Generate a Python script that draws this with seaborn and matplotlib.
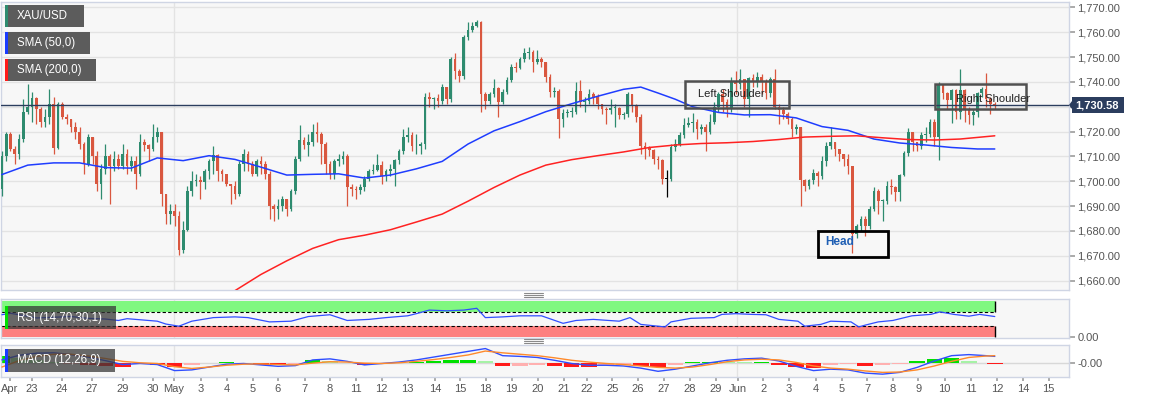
import numpy as np
import matplotlib
matplotlib.use("Agg")
import matplotlib.pyplot as plt
from matplotlib.patches import Rectangle, Polygon
from matplotlib.lines import Line2D
import seaborn as sns

# ---- values: XAU/USD 4h candles, Apr 22 - Jun 11 ----
first_open = 1697
closes = [
    1710, 1719, 1713, 1711, 1717, 1728, 1730, 1733.5, 1729, 1724,
    1726, 1731, 1713.5, 1731, 1726, 1725, 1722, 1720, 1715, 1707,
    1718, 1710, 1699, 1705, 1710, 1706, 1709, 1706, 1711, 1706,
    1708, 1703, 1716, 1714.5, 1713, 1718, 1720, 1695, 1687, 1688,
    1686, 1672.5, 1680.6, 1696, 1700, 1700.5, 1699.6, 1704, 1708, 1710.6,
    1704, 1703, 1699, 1698, 1695, 1707, 1711, 1707, 1703, 1708,
    1707, 1703, 1690, 1689, 1690, 1693, 1689, 1696, 1709, 1716.6,
    1714.6, 1716, 1720, 1719, 1715, 1707, 1703,
    1708, 1709, 1710, 1697.5, 1697, 1696.6, 1697.5, 1701, 1704, 1704.5,
    1706.7, 1702, 1704, 1705, 1708.6, 1712, 1718, 1718.7, 1714, 1714,
    1715, 1734, 1733, 1733.5, 1732.5, 1738, 1733, 1749, 1744.4, 1742.4,
    1758, 1761, 1762.5, 1764, 1735, 1732.5, 1735, 1737.5, 1732, 1736,
    1740.8, 1746, 1745.5, 1749, 1751.5, 1752, 1748, 1749, 1748, 1742,
    1736, 1736.5, 1725, 1727.4, 1727.8, 1728, 1736.5, 1732, 1732.5, 1735,
    1734, 1731, 1729, 1728.7, 1729.5, 1729.5, 1726.7, 1727, 1735, 1730.4,
    1726, 1714, 1713.4, 1712.5, 1709, 1708.5, 1701,
    1701,
    1713.6, 1715, 1718.7, 1722.7, 1723.4, 1724, 1721, 1722, 1720, 1724,
    1730, 1735, 1732, 1729, 1740, 1739, 1741, 1733, 1741.5, 1740,
    1742, 1740, 1735.6, 1741, 1730, 1728.8, 1727, 1725, 1721, 1722,
    1700.7, 1698, 1700.7, 1703.4, 1702, 1708, 1714, 1716, 1713, 1711,
    1709, 1706, 1678.6, 1682, 1685, 1682, 1689, 1696, 1692, 1692,
    1698, 1697.5, 1695.5, 1702.7, 1711.4, 1720, 1716, 1714, 1718.7, 1719,
    1724, 1718, 1738.8, 1735.5, 1732.8, 1736.6, 1728, 1736.6, 1729, 1726.7,
    1728, 1735.5, 1737, 1733, 1731, 1730.58,
]
highs = [
    1712, 1720, 1720, 1714, 1719, 1733, 1739, 1736, 1734, 1730,
    1729, 1737, 1734, 1732, 1732, 1727, 1725, 1724, 1722, 1716,
    1719, 1718, 1712, 1707, 1715, 1711, 1712, 1711, 1715, 1713,
    1710, 1710, 1719, 1717, 1715, 1723, 1722, 1720, 1695, 1691,
    1691, 1688, 1684, 1698, 1704, 1703, 1702, 1705, 1709, 1714,
    1711, 1705, 1703, 1699, 1700, 1708, 1713, 1712, 1708, 1709,
    1710, 1708, 1704, 1691, 1693, 1694, 1693, 1697, 1710, 1722.5,
    1718, 1719, 1723, 1724, 1720, 1716, 1708,
    1709, 1711, 1712, 1711, 1699, 1698, 1699, 1702, 1705, 1707,
    1711, 1708, 1705, 1707, 1709, 1713, 1721, 1722, 1720, 1719,
    1716, 1735.5, 1736, 1734, 1735, 1739, 1738, 1750, 1751.5, 1745,
    1759, 1764, 1764, 1765, 1764.5, 1736, 1736, 1741, 1738, 1737,
    1742, 1747, 1748, 1750, 1753.5, 1754, 1753, 1753, 1750, 1748,
    1743, 1738, 1737, 1729, 1729, 1730, 1740, 1740.7, 1734, 1737,
    1736, 1735, 1731, 1730, 1733, 1731, 1730, 1728, 1736, 1735,
    1731, 1727, 1716, 1714, 1713, 1710, 1709,
    1704.5,
    1715, 1717, 1720, 1725.4, 1726, 1727.5, 1725, 1723, 1723, 1727,
    1732, 1736, 1737, 1733, 1742, 1744.5, 1745, 1741, 1742, 1743,
    1744, 1743, 1741, 1742, 1745, 1731, 1730, 1728, 1726, 1723,
    1722, 1701, 1701, 1705, 1704, 1710, 1716, 1722, 1716, 1713,
    1711, 1711, 1706, 1683, 1686, 1686, 1690, 1697.5, 1697, 1693,
    1700, 1701, 1698, 1703, 1712, 1721.5, 1720, 1716, 1720, 1722,
    1725, 1725, 1740, 1739, 1736, 1737, 1737, 1745, 1737, 1730,
    1729, 1736, 1738, 1743.5, 1734, 1732,
]
lows = [
    1694, 1708, 1712, 1707, 1709, 1716, 1727, 1724, 1723, 1722,
    1722, 1723, 1711, 1713, 1725, 1723, 1720, 1717, 1713, 1703,
    1706, 1707, 1696, 1693, 1703, 1691, 1704, 1705, 1705, 1703,
    1704, 1697, 1702, 1712, 1708, 1712, 1716, 1690, 1683, 1683,
    1682, 1670.5, 1671, 1680, 1694, 1698, 1693, 1697, 1701, 1703,
    1700, 1700, 1698, 1691, 1693, 1694, 1704, 1704, 1702, 1702,
    1703, 1701, 1685, 1684, 1685, 1688, 1686, 1688, 1695, 1708,
    1713, 1710, 1714, 1716, 1707, 1703, 1701,
    1701, 1706, 1707, 1690, 1694, 1693, 1695, 1696, 1700, 1703,
    1704, 1699, 1700, 1702, 1698, 1707, 1711, 1716, 1712, 1711,
    1711, 1713, 1730, 1729, 1730, 1731, 1731, 1732, 1741, 1740,
    1741, 1757, 1760, 1762, 1728, 1729, 1731, 1734, 1726, 1731,
    1735, 1740, 1744, 1745, 1748, 1749, 1744, 1747, 1746, 1740,
    1734, 1734, 1717.5, 1722, 1726, 1726, 1727, 1730, 1728, 1731,
    1731, 1729, 1727, 1723, 1727, 1722, 1725, 1725, 1726, 1728,
    1724, 1711, 1709, 1710, 1707, 1705, 1699,
    1693.5,
    1700, 1712, 1714, 1717.4, 1722, 1720, 1717, 1719, 1712, 1719,
    1723, 1728, 1728, 1726, 1728, 1735, 1737, 1730, 1726, 1738,
    1738, 1735, 1733, 1734, 1729, 1723, 1725, 1723, 1718, 1719,
    1690, 1696, 1697, 1699, 1698, 1701, 1706, 1713, 1710, 1708,
    1706, 1703, 1671, 1677, 1680, 1678, 1681, 1688, 1687, 1684,
    1691, 1695, 1692, 1692, 1702, 1710, 1712, 1712, 1713, 1716,
    1718, 1714, 1708.5, 1733, 1729, 1723.6, 1725, 1725, 1724, 1723,
    1722.5, 1726, 1734, 1730, 1727, 1729,
]
marked_candle = 154      # the black (selected) candle
last_price = 1730.58

sma50_pos = [0, 6, 12, 18, 24, 30, 36, 42, 48, 54, 60, 66, 72, 78, 84, 90, 96, 102,
             108, 114, 120, 126, 132, 138, 144, 148, 152, 156, 160, 166, 172, 178,
             184, 190, 196, 202, 208, 214, 220, 226, 230]
sma50_vals = [1702.7, 1706.5, 1707.4, 1707.4, 1705.5, 1705.3, 1709.4, 1708.3, 1710.3,
              1708.8, 1705.7, 1702.5, 1702.8, 1703, 1701.3, 1702.5, 1705, 1708, 1715,
              1720.3, 1724, 1728, 1731.2, 1734.2, 1737, 1737.9, 1735.5, 1733, 1730,
              1727.7, 1726.7, 1726.8, 1725.5, 1722, 1720.5, 1717, 1715.4, 1714.6,
              1713.6, 1713, 1713]
sma200_pos = [48, 54, 60, 66, 72, 78, 84, 90, 96, 102, 108, 114, 120, 126, 132, 138,
              144, 150, 156, 162, 168, 174, 180, 186, 192, 198, 204, 210, 216, 222, 230]
sma200_vals = [1649, 1656, 1662.5, 1668, 1673, 1676.5, 1678.3, 1680.5, 1683.6, 1686.8,
               1692, 1697.5, 1702.5, 1706.5, 1708.7, 1710.3, 1711.8, 1713.6, 1714.6,
               1715.2, 1715.5, 1716, 1716.8, 1717.8, 1718.1, 1718.3, 1717.5, 1716.8,
               1716.6, 1717, 1718.3]

rsi_pos = [0, 2, 5, 8, 12, 16, 20, 24, 27, 29, 33, 36, 38, 41, 44, 49, 54, 57, 62, 67,
           71, 76, 80, 85, 89, 94, 96, 99, 103, 107, 110, 112, 116, 120, 125, 130, 133,
           137, 143, 145.5, 148, 153.6, 155, 159.6, 165, 166.8, 170, 173.7, 177, 180,
           184.4, 186, 189.7, 192, 196.7, 198.5, 200, 203, 206.4, 210.8, 215.2, 217.3,
           220.5, 224, 226.5, 230]
rsi_vals = [62, 66, 60, 53, 55, 57, 52, 50, 46, 51, 47, 44, 36, 30, 44, 54, 56, 54, 42,
            44, 57, 62, 46, 49, 54, 59, 65, 75, 73, 75, 80, 54, 56, 59, 59, 38, 46, 49,
            44, 54, 35, 28, 42, 52, 54, 63, 65, 63, 62, 49, 44, 30, 35, 44, 42, 28, 33,
            42, 46, 59, 63, 70, 63, 58, 63, 57]

macd_pos = [0, 4, 8, 12, 16, 20, 24, 28, 32, 36, 40, 44, 48, 52, 56, 60, 64, 68, 72,
            76, 80, 84, 88, 92, 96, 100, 104, 108, 112, 116, 120, 124, 128, 132, 136,
            140, 144, 148, 152, 156, 160, 164, 168, 172, 176, 180, 184, 188, 192, 196,
            200, 204, 208, 212, 216, 220, 224, 228, 230]
macd_vals = [1.0, 2.3, 2.9, 3.0, 2.5, 1.8, 0.8, -0.3, 0.0, -0.3, -2.0, -1.8, -1.0, -0.2,
             0.0, -0.4, -0.8, -0.6, 1.0, 1.3, 0.6, -0.4, 0.0, 0.4, 1.0, 1.8, 2.6, 3.4,
             4.2, 2.2, 2.0, 1.7, 0.9, 0.0, -0.5, -0.5, -0.7, -1.3, -2.2, -1.6, -0.7, 0.2,
             0.9, 1.3, 1.5, 0.7, -0.8, -2.0, -1.6, -1.8, -2.7, -3.0, -2.5, -1.1, 0.7,
             2.2, 2.5, 2.2, 2.0]
signal_vals = [-1.0, 0.8, 2.0, 2.6, 2.6, 2.1, 1.4, 0.6, 0.2, 0.0, -0.9, -1.4, -1.0,
               -0.5, -0.2, -0.1, -0.3, -0.4, 0.1, 0.5, 0.4, 0.1, 0.0, 0.2, 0.6, 1.1,
               1.7, 2.4, 3.5, 3.0, 2.6, 2.2, 1.6, 0.9, 0.4, 0.0, -0.3, -0.7, -1.1, -1.3,
               -1.0, -0.3, 0.5, 1.0, 1.2, 1.0, 0.3, -0.7, -1.3, -1.6, -2.1, -2.5, -2.4,
               -1.8, -0.7, 0.6, 1.7, 2.1, 2.2]

day_labels = ["Apr", "23", "24", "27", "29", "30", "May", "3", "4", "5", "6", "7", "8",
              "11", "12", "13", "14", "15", "18", "19", "20", "21", "22", "25", "26",
              "27", "28", "29", "Jun", "2", "3", "4", "5", "7", "8", "9", "10", "11",
              "12", "14", "15"]
day_pos = [1.9, 6.9, 13.9, 20.8, 28, 35, 39.8, 46.1, 52.1, 58.1, 63.9, 70.2, 76, 82,
           88, 94, 100.3, 106.1, 112.1, 118.1, 124.2, 130.2, 135.5, 141.4, 147.3, 153.3,
           159.4, 165.4, 170.5, 176.4, 182.3, 188.5, 194.5, 200.4, 206.4, 212.3, 218.4,
           224.4, 230.5, 236.5, 242.5]
month_pos = [39.8, 170.4]
price_ticks = [1660, 1670, 1680, 1690, 1700, 1710, 1720, 1730, 1740, 1750, 1760, 1770]

# ---- styling ----
sns.set_theme(style="white")
plt.rcParams["font.family"] = ["Liberation Sans", "DejaVu Sans"]

W, H = 1153, 400
BG = "#f7f7f7"
EDGE = "#cfd5e4"
GRID = "#e3e3e3"
GREEN = "#2e8b6f"
RED = "#d9573f"
NAVY = "#2b3d5e"
PX = 4.317  # pixels per candle

fig = plt.figure(figsize=(W / 100, H / 100), dpi=100)


def px_axes(x0, y0, x1, y1):
    return fig.add_axes([x0 / W, 1 - y1 / H, (x1 - x0) / W, (y1 - y0) / H])


ax = px_axes(1, 2, 1069, 290)
ax_rsi = px_axes(1, 299, 1069, 338)
ax_macd = px_axes(1, 345, 1069, 377)
xlim = (-0.2, -0.2 + 1068 / PX)

for a in (ax, ax_rsi, ax_macd):
    a.set_facecolor(BG)
    a.set_xlim(*xlim)
    for s in a.spines.values():
        s.set_color(EDGE)
        s.set_linewidth(1)
    a.yaxis.tick_right()
    a.tick_params(axis="x", bottom=False, labelbottom=False)
    a.tick_params(axis="y", length=4, color="#a0a0a0", labelsize=8,
                  labelcolor="#555555", pad=2)
    for m in month_pos:
        a.axvline(m, color=GRID, lw=1, zorder=0)

# main price panel (the 1,730 label sits under the last-price tag)
ax.set_ylim(1656.26, 1772.13)
ax.set_yticks(price_ticks)
ax.set_yticklabels(["" if v == 1730 else f"{v:,.2f}" for v in price_ticks])
for v in price_ticks:
    ax.axhline(v, color=GRID, lw=1, zorder=0)

c = np.array(closes, float)
o = np.array([first_open] + closes[:-1], float)
x = np.arange(len(c))
col = np.where(c >= o, GREEN, RED).astype(object)
col[marked_candle] = "black"
ax.vlines(x, lows, highs, colors=list(col), lw=0.9, zorder=3)
ax.bar(x, np.maximum(np.abs(c - o), 0.35), bottom=np.minimum(o, c), width=0.62,
       color=list(col), lw=0, zorder=4)

sns.lineplot(x=sma50_pos, y=sma50_vals, ax=ax, color="#1f3dff", lw=1.1, zorder=5)
sns.lineplot(x=sma200_pos, y=sma200_vals, ax=ax, color="#ff2222", lw=1.1, zorder=5)
ax.axhline(last_price, color=NAVY, lw=1, zorder=6)
ax.set_xlabel("")
ax.set_ylabel("")


def pattern_box(x0, x1, y0, y1, ec, lw):
    ax.add_patch(Rectangle((x0, y0), x1 - x0, y1 - y0, fill=False, ec=ec, lw=lw, zorder=7))


pattern_box(158.2, 182.3, 1729.5, 1740.3, "#505050", 1.8)
ax.text(168.9, 1735.0, "Left Shoulder", ha="center", va="center", fontsize=8,
        color="#222222", zorder=8)
pattern_box(189.0, 205.2, 1669.5, 1679.9, "black", 2.0)
ax.text(190.8, 1675.6, "Head", ha="left", va="center", fontsize=8.5,
        color="#1f5fb4", fontweight="bold", zorder=8)
pattern_box(216.1, 237.2, 1729.1, 1739.1, "#505050", 1.8)
ax.text(221.0, 1733.1, "Right Shoulder", ha="left", va="center", fontsize=8,
        color="#222222", zorder=8)

# RSI panel
ax_rsi.set_ylim(-3, 106)
band_x = [xlim[0], len(closes) - 1]
ax_rsi.fill_between(band_x, 70, 100, color="#80f880", lw=0, zorder=1)
ax_rsi.fill_between(band_x, 0, 30, color="#fd8080", lw=0, zorder=1)
ax_rsi.hlines([70, 30], band_x[0], band_x[1], colors="black", linestyles=(0, (3, 2)),
              lw=0.8, zorder=2)
ax_rsi.vlines(band_x[1], 70, 100, colors="black", lw=1, zorder=2)
ax_rsi.vlines(band_x[1], 0, 30, colors="black", lw=1, zorder=2)
sns.lineplot(x=rsi_pos, y=rsi_vals, ax=ax_rsi, color="#2f4dff", lw=0.9, zorder=3)
ax_rsi.set_yticks([0])
ax_rsi.set_yticklabels(["0.00"])
ax_rsi.set_xlabel("")
ax_rsi.set_ylabel("")

# MACD panel
ax_macd.set_ylim(-3.8, 5.2)
ax_macd.axhline(0, color="#d8d8d8", lw=1, zorder=0)
hist = np.array(macd_vals) - np.array(signal_vals)
prev = np.r_[hist[0], hist[:-1]]
growing = np.abs(hist) >= np.abs(prev)
hist_col = np.where(hist >= 0, np.where(growing, "#00e000", "#a6f2a6"),
                    np.where(growing, "#ff1a1a", "#ffb0b0"))
ax_macd.bar(macd_pos, hist, width=3.6, color=list(hist_col), lw=0, zorder=2)
sns.lineplot(x=macd_pos, y=macd_vals, ax=ax_macd, color="#2f4dff", lw=1, zorder=3)
sns.lineplot(x=macd_pos, y=signal_vals, ax=ax_macd, color="#ff8a2b", lw=1, zorder=3)
ax_macd.set_yticks([0])
ax_macd.set_yticklabels(["-0.00"])
ax_macd.set_xticks(day_pos)
ax_macd.set_xticklabels(day_labels)
ax_macd.tick_params(axis="x", bottom=True, labelbottom=True, length=3, color="#a0a0a0",
                    labelsize=8, labelcolor="#555555", pad=2)
ax_macd.set_xlabel("")
ax_macd.set_ylabel("")


# ---- overlay labels in figure pixels ----
def fig_rect(x0, y0, x1, y1, color, alpha=1.0):
    fig.add_artist(Rectangle((x0 / W, 1 - y1 / H), (x1 - x0) / W, (y1 - y0) / H,
                             transform=fig.transFigure, fc=color, ec="none",
                             alpha=alpha, zorder=20))


def tag(x0, y0, x1, y1, stripe, text, alpha=1.0):
    fig_rect(x0, y0, x1, y1, "#5c5c5c" if alpha == 1.0 else "#383838", alpha)
    fig_rect(x0, y0, x0 + 3, y1, stripe)
    fig.text((x0 + 12) / W, 1 - (y0 + y1) / 2 / H, text, color="white", fontsize=8.3,
             ha="left", va="center", zorder=21)


tag(5, 5, 84, 27, "#2e8b6f", "XAU/USD")
tag(5, 32, 90, 54, "#1a3cff", "SMA (50,0)")
tag(5, 59, 96, 81, "#ff1a1a", "SMA (200,0)")
tag(5, 306, 116, 329, "#00dd00", "RSI (14,70,30,1)", alpha=0.75)
tag(5, 349, 115, 372, "#1a3cff", "MACD (12,26,9)", alpha=0.75)

# last price tag
fig_rect(1072, 97, 1124, 113, NAVY)
fig.add_artist(Polygon([(1069 / W, 1 - 105 / H), (1072 / W, 1 - 101 / H),
                        (1072 / W, 1 - 109 / H)], closed=True, transform=fig.transFigure,
                       fc=NAVY, ec="none", zorder=20))
fig.text(1075 / W, 1 - 105 / H, f"{last_price:,.2f}", color="white", fontsize=8,
         fontweight="bold", ha="left", va="center", zorder=21)

# panel resize handles
for yc in (295, 341):
    for dy in (-2, 0, 2):
        fig.add_artist(Line2D([524 / W, 543 / W], [1 - (yc + dy) / H] * 2,
                              transform=fig.transFigure, color="#8a8a8a", lw=0.8))

fig.savefig("out.png", dpi=100, facecolor="white")
